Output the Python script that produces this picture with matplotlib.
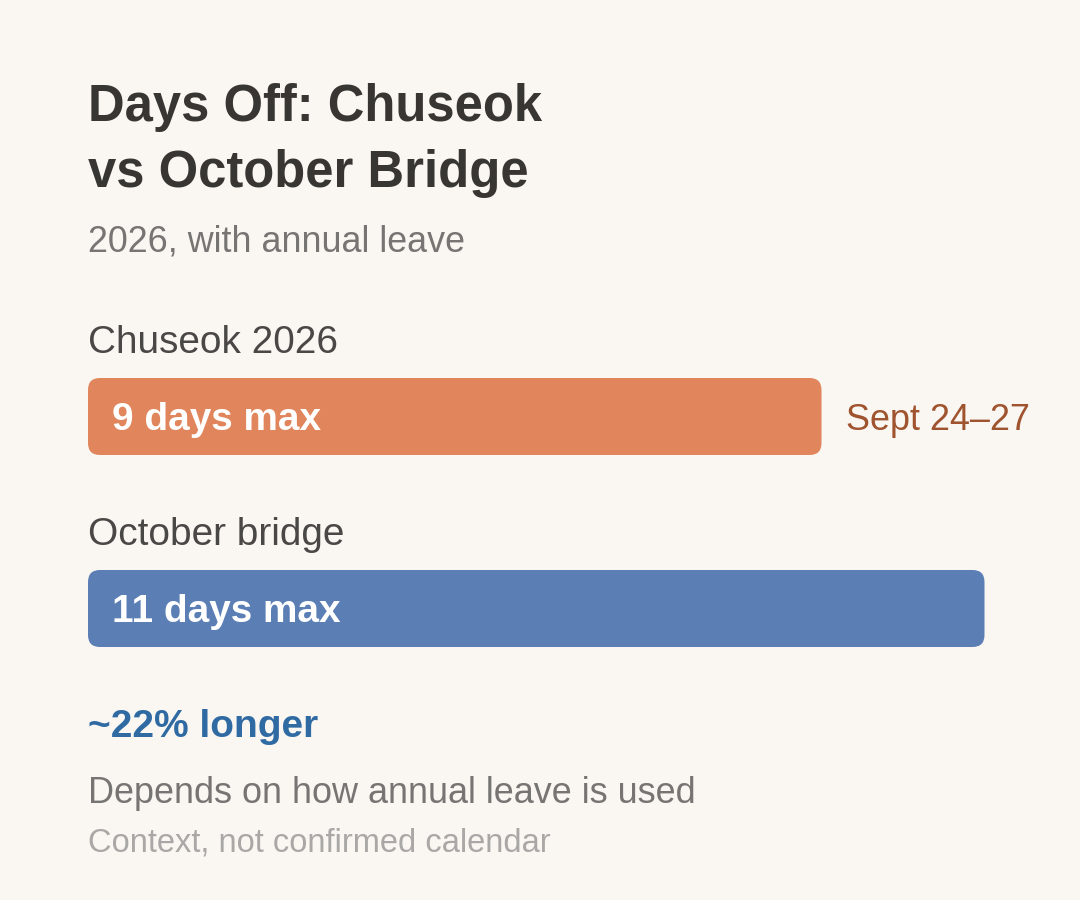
import matplotlib
matplotlib.use('Agg')
import matplotlib.pyplot as plt
from matplotlib.patches import FancyBboxPatch

# data
categories = ['Chuseok 2026', 'October bridge']
days = [9, 11]
bar_labels = ['9 days max', '11 days max']
bar_colors = ['#e0855c', '#5b7fb5']
side_note = 'Sept 24\u201327'
title_lines = ['Days Off: Chuseok', 'vs October Bridge']
subtitle = '2026, with annual leave'
headline = '~22% longer'
note1 = 'Depends on how annual leave is used'
note2 = 'Context, not confirmed calendar'

plt.rcParams['font.family'] = ['Liberation Sans', 'DejaVu Sans']

W, H = 1080, 900
px_per_day = 81.5
x0 = 88

fig = plt.figure(figsize=(W / 100, H / 100), dpi=100)
fig.patch.set_facecolor('#faf7f2')
ax = fig.add_axes([0, 0, 1, 1])
ax.set_facecolor('#faf7f2')
ax.set_xlim(-x0 / px_per_day, (W - x0) / px_per_day)
ax.set_ylim(H, 0)
ax.axis('off')

# title block
ax.text(0, 121, title_lines[0], fontsize=36.5, fontweight='bold',
        color='#383633', va='baseline')
ax.text(0, 187, title_lines[1], fontsize=36.5, fontweight='bold',
        color='#383633', va='baseline')
ax.text(0, 252, subtitle, fontsize=25.8, color='#777573', va='baseline')

# bars
bar_tops = [378, 570]
bar_h = 77
for i, (cat, d) in enumerate(zip(categories, days)):
    top = bar_tops[i]
    ax.text(0, top - 25, cat, fontsize=27.9, color='#4a4846', va='baseline')
    box = FancyBboxPatch((0, top), d, bar_h,
                         boxstyle='round,pad=0,rounding_size=%f' % (12 / px_per_day),
                         mutation_aspect=px_per_day,
                         facecolor=bar_colors[i], edgecolor='none')
    ax.add_patch(box)
    ax.annotate(bar_labels[i], xy=(0, top + bar_h / 2), xytext=(24 * 0.72, 0),
                textcoords='offset points', fontsize=27.9, fontweight='bold',
                color='white', va='center_baseline')

ax.annotate(side_note, xy=(days[0], bar_tops[0] + bar_h / 2), xytext=(25 * 0.72, 0),
            textcoords='offset points', fontsize=25.9, color='#a0532f',
            va='center_baseline')

# footer
ax.text(0, 737, headline, fontsize=28, fontweight='bold', color='#2f6aa3',
        va='baseline')
ax.text(0, 803, note1, fontsize=25.9, color='#777573', va='baseline')
ax.text(0, 852, note2, fontsize=23.5, color='#aaa8a6', va='baseline')

fig.savefig('out.png', dpi=100, facecolor=fig.get_facecolor())
